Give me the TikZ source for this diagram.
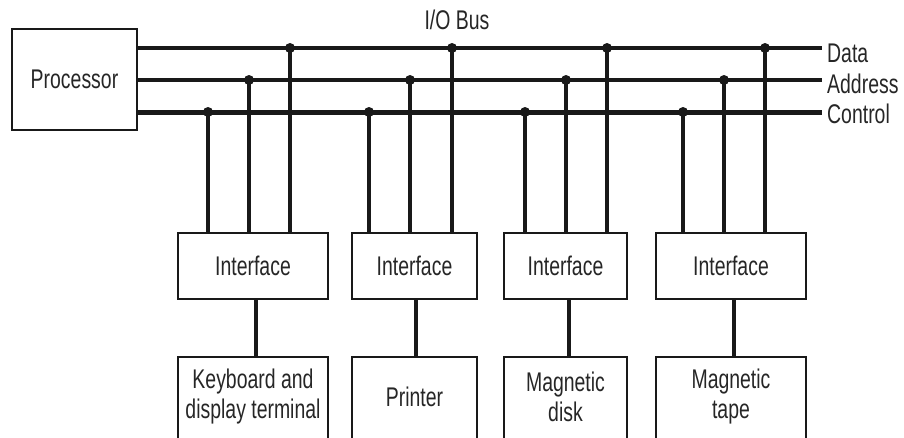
\documentclass[tikz,border=0pt]{standalone}
\usepackage{fontspec}
\setmainfont{Liberation Sans}[FakeStretch=0.72]
\begin{document}
\begin{tikzpicture}[x=1pt,y=-1pt,
  box/.style={draw=black!90,line width=2pt,inner sep=0pt,text=black!85,
    font=\fontsize{27}{30}\selectfont,align=center},
  bus/.style={line width=4pt,black!90},
  tap/.style={line width=3.5pt,black!90},
  lab/.style={text=black!85,font=\fontsize{27}{30}\selectfont,inner sep=0pt}]
\useasboundingbox (0,0) rectangle (904,437);
\clip (0,0) rectangle (904,437);
% processor
\node[box,minimum width=125pt,minimum height=101pt] (proc) at (74.5,79.5) {Processor};
% bus ends
\coordinate (dE) at (822,48);
\coordinate (aE) at (822,80);
\coordinate (cE) at (822,112);
\draw[bus] (proc.east |- dE) -- (dE);
\draw[bus] (proc.east |- aE) -- (aE);
\draw[bus,line width=5pt] (proc.east |- cE) -- (cE);
\node[lab,anchor=west] (ld) at (827,53) {Data};
\node[lab,anchor=west] (la) at (827,84) {Address};
\node[lab,anchor=west] (lc) at (827,114) {Control};
\node[lab] (bus) at (457,20) {I/O Bus};
% interfaces
\foreach \n/\l/\r/\c/\a/\d/\m/\txt in {
  1/178/328/208/249/290/256/{Keyboard and\\display terminal},
  2/352/477/369/410/452/416/{Printer},
  3/504/627/525/566/607/569/{Magnetic\\disk},
  4/656/806/683/724/765/734/{Magnetic\\tape}}{
  \node[box,minimum width={\r-\l},minimum height=66pt] (i\n) at ({(\l+\r)/2},266) {Interface};
  \node[box,minimum width={\r-\l},minimum height=100pt] (dev\n) at ({(\l+\r)/2},407) {};
  \node[lab,align=center] (t\n) at ({(\l+\r)/2},397) {\txt};
  \coordinate (jc\n) at (\c,112);
  \coordinate (ja\n) at (\a,80);
  \coordinate (jd\n) at (\d,48);
  \draw[tap] (jc\n) -- (jc\n |- i\n.north);
  \draw[tap] (ja\n) -- (ja\n |- i\n.north);
  \draw[tap] (jd\n) -- (jd\n |- i\n.north);
  \fill[black!90] (jc\n) circle (5pt) (ja\n) circle (5pt) (jd\n) circle (5pt);
  \draw[tap] (i\n.south -| \m,0) -- (dev\n.north -| \m,0);
}
\end{tikzpicture}
\end{document}
